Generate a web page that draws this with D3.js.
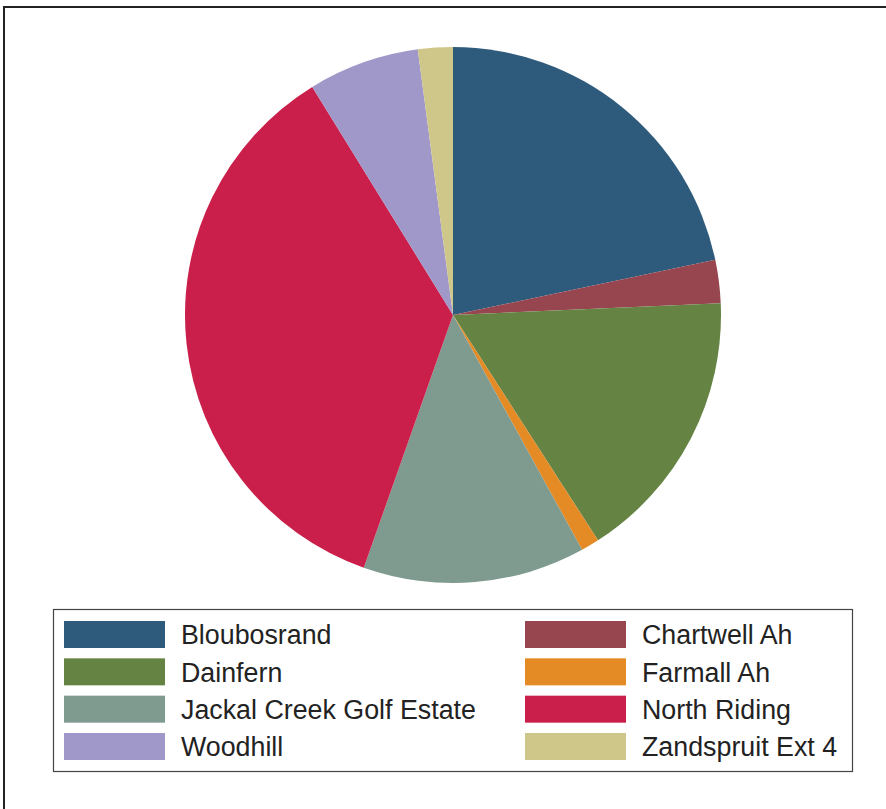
<!DOCTYPE html>
<html>
<head>
<meta charset="utf-8">
<script src="https://cdn.jsdelivr.net/npm/d3@7"></script>
<style>
  body { margin: 0; background: #fff; }
  svg { display: block; }
</style>
</head>
<body>
<div id="chart"></div>
<script>
// suburbs and their share of the pie (percent)
var suburbs = ["Bloubosrand", "Chartwell Ah", "Dainfern", "Farmall Ah",
               "Jackal Creek Golf Estate", "North Riding", "Woodhill", "Zandspruit Ext 4"];
var shares = [21.7, 2.6, 16.6, 1.1, 13.4, 35.8, 6.7, 2.1];
var sliceColors = ["#2e5a7c", "#97454e", "#658443", "#e48b25",
                   "#7f9a8f", "#c91f4a", "#9f98c9", "#cfc68a"];

var width = 886, height = 809;
var cx = 453, cy = 315, radius = 268;

var svg = d3.select("#chart").append("svg")
    .attr("width", width)
    .attr("height", height);

// outer frame (runs past the bottom/right edge of the picture)
svg.append("rect")
    .attr("x", 4).attr("y", 7)
    .attr("width", width + 10).attr("height", height + 10)
    .attr("fill", "#fff")
    .attr("stroke", "#222")
    .attr("stroke-width", 2);

var pie = d3.pie().sort(null).value(function(d) { return d; });
var arc = d3.arc().innerRadius(0).outerRadius(radius);

var color = d3.scaleOrdinal().domain(suburbs).range(sliceColors);

svg.append("g")
    .attr("transform", "translate(" + cx + "," + cy + ")")
    .selectAll("path")
    .data(pie(shares))
    .enter()
    .append("path")
    .attr("d", arc)
    .attr("fill", function(d, i) { return color(suburbs[i]); });

// legend, two columns filled row by row
var legend = svg.append("g");
legend.append("rect")
    .attr("x", 53.5).attr("y", 609.5)
    .attr("width", 799).attr("height", 162)
    .attr("fill", "#fff")
    .attr("stroke", "#444")
    .attr("stroke-width", 1.2);

var colX = [64, 525];
var rowY = d3.scaleLinear().domain([0, 3]).range([621, 733]);

var items = legend.selectAll("g.item")
    .data(suburbs)
    .enter()
    .append("g")
    .attr("class", "item")
    .attr("transform", function(d, i) {
        return "translate(" + colX[i % 2] + "," + rowY(Math.floor(i / 2)) + ")";
    });

items.append("rect")
    .attr("width", 101)
    .attr("height", 27)
    .attr("fill", function(d) { return color(d); });

items.append("text")
    .attr("x", 117)
    .attr("y", 14)
    .attr("dy", "0.35em")
    .attr("font-family", "Liberation Sans, Arial, sans-serif")
    .attr("font-size", 26.8)
    .attr("fill", "#222")
    .text(function(d) { return d; });
</script>
</body>
</html>
